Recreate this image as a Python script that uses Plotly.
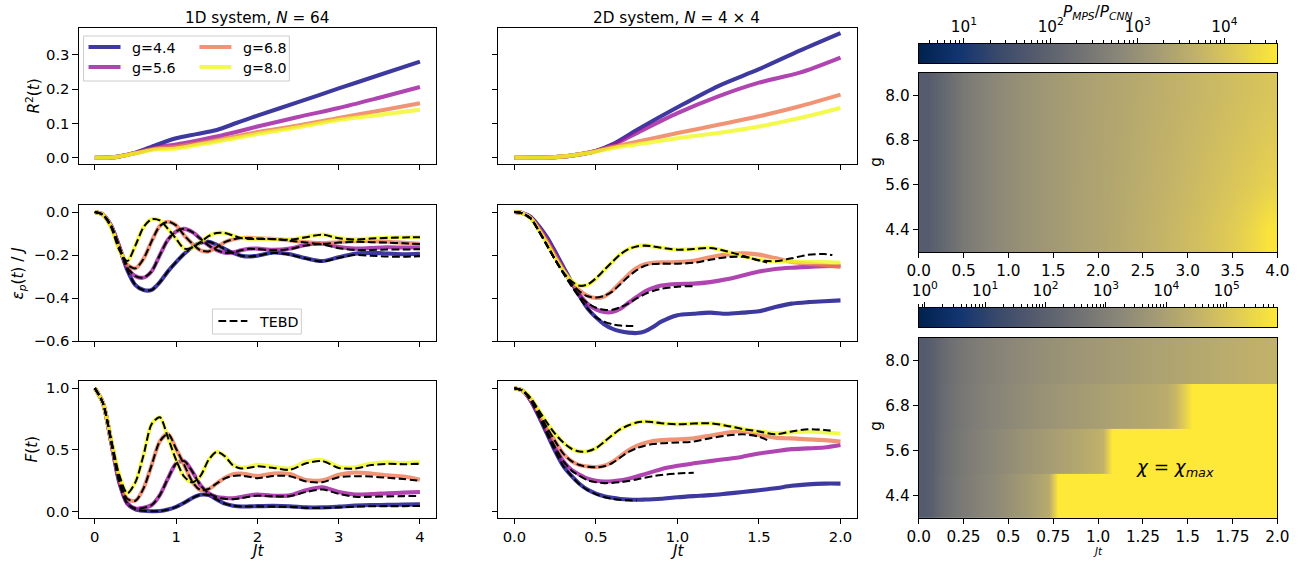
import numpy as np
import plotly.graph_objects as go

# ---------------------------------------------------------------- data
g_values = [4.4, 5.6, 6.8, 8.0]
g_labels = ["g=4.4", "g=5.6", "g=6.8", "g=8.0"]
line_colors = ["rgba(13,8,135,0.8)", "rgba(156,23,158,0.8)",
               "rgba(237,121,83,0.8)", "rgba(240,249,33,0.8)"]

# R^2(t)
t_r2_1d = [0, 0.25, 0.5, 0.75, 1.0, 1.25, 1.5, 1.75, 2.0, 2.5, 3.0, 3.5, 4.0]
r2_1d = [
    [0, 0.002, 0.015, 0.037, 0.057, 0.069, 0.081, 0.102, 0.123, 0.162, 0.202, 0.241, 0.28],
    [0, 0.002, 0.014, 0.030, 0.039, 0.050, 0.062, 0.076, 0.091, 0.119, 0.145, 0.175, 0.206],
    [0, 0.002, 0.014, 0.027, 0.032, 0.042, 0.052, 0.063, 0.075, 0.094, 0.116, 0.137, 0.159],
    [0, 0.002, 0.013, 0.024, 0.027, 0.037, 0.047, 0.058, 0.069, 0.089, 0.110, 0.125, 0.140],
]
t_r2_2d = [0, 0.25, 0.4, 0.5, 0.6, 0.75, 1.0, 1.25, 1.5, 1.75, 2.0]
r2_2d = [
    [0, 0.002, 0.010, 0.020, 0.039, 0.081, 0.147, 0.209, 0.258, 0.312, 0.363],
    [0, 0.002, 0.010, 0.020, 0.036, 0.072, 0.130, 0.179, 0.219, 0.248, 0.292],
    [0, 0.002, 0.010, 0.020, 0.032, 0.047, 0.072, 0.096, 0.121, 0.150, 0.184],
    [0, 0.002, 0.010, 0.018, 0.028, 0.039, 0.057, 0.072, 0.091, 0.116, 0.145],
]

# 1D time grid
t_1d = [0.0, 0.1, 0.2, 0.3, 0.4, 0.5, 0.6, 0.7, 0.8, 0.9, 1.0, 1.1, 1.2, 1.3, 1.4, 1.5,
        1.6, 1.7, 1.8, 1.9, 2.0, 2.2, 2.4, 2.6, 2.8, 3.0, 3.2, 3.4, 3.6, 3.8, 4.0]

eps_1d = [
    [0, -0.012, -0.062, -0.16, -0.27, -0.34, -0.363, -0.362, -0.326, -0.276, -0.233, -0.194, -0.163,
     -0.143, -0.138, -0.152, -0.172, -0.19, -0.203, -0.207, -0.203,
     -0.188, -0.196, -0.215, -0.228, -0.21, -0.194, -0.19, -0.193, -0.196, -0.194],
    [0, -0.012, -0.065, -0.16, -0.258, -0.298, -0.305, -0.275, -0.2, -0.128, -0.09, -0.078, -0.093,
     -0.124, -0.155, -0.177, -0.189, -0.188, -0.178, -0.171, -0.17,
     -0.176, -0.17, -0.152, -0.147, -0.163, -0.17, -0.167, -0.164, -0.165, -0.164],
    [0, -0.012, -0.066, -0.165, -0.245, -0.262, -0.217, -0.135, -0.065, -0.045, -0.062, -0.108, -0.147,
     -0.178, -0.183, -0.163, -0.14, -0.127, -0.121, -0.12, -0.122,
     -0.124, -0.132, -0.14, -0.145, -0.14, -0.136, -0.135, -0.138, -0.143, -0.147],
    [0, -0.013, -0.07, -0.175, -0.228, -0.155, -0.07, -0.033, -0.039, -0.078, -0.124, -0.17, -0.165,
     -0.14, -0.112, -0.097, -0.097, -0.109, -0.121, -0.125, -0.124,
     -0.125, -0.127, -0.116, -0.104, -0.121, -0.127, -0.122, -0.119, -0.117, -0.116],
]
eps_1d_tebd = [
    [0, -0.012, -0.062, -0.16, -0.27, -0.34, -0.363, -0.362, -0.326, -0.276, -0.233, -0.194, -0.163,
     -0.143, -0.138, -0.152, -0.172, -0.19, -0.203, -0.207, -0.203,
     -0.19, -0.198, -0.217, -0.23, -0.213, -0.2, -0.203, -0.207, -0.208, -0.205],
    [0, -0.012, -0.065, -0.16, -0.258, -0.298, -0.305, -0.275, -0.2, -0.128, -0.09, -0.078, -0.093,
     -0.124, -0.155, -0.177, -0.189, -0.188, -0.178, -0.171, -0.172,
     -0.178, -0.172, -0.155, -0.15, -0.168, -0.176, -0.176, -0.174, -0.174, -0.173],
    [0, -0.012, -0.066, -0.165, -0.245, -0.262, -0.217, -0.135, -0.065, -0.045, -0.062, -0.108, -0.147,
     -0.178, -0.183, -0.163, -0.14, -0.127, -0.121, -0.121, -0.123,
     -0.125, -0.133, -0.142, -0.148, -0.142, -0.138, -0.14, -0.142, -0.145, -0.149],
    [0, -0.013, -0.07, -0.175, -0.228, -0.155, -0.07, -0.033, -0.039, -0.078, -0.124, -0.17, -0.165,
     -0.14, -0.112, -0.097, -0.097, -0.109, -0.121, -0.125, -0.125,
     -0.126, -0.128, -0.117, -0.105, -0.122, -0.128, -0.123, -0.12, -0.118, -0.117],
]

f_1d = [
    [1.0, 0.88, 0.57, 0.24, 0.07, 0.02, 0.008, 0.005, 0.006, 0.018, 0.04, 0.073, 0.112, 0.138,
     0.135, 0.1, 0.066, 0.05, 0.043, 0.044, 0.046,
     0.048, 0.045, 0.036, 0.036, 0.042, 0.05, 0.055, 0.056, 0.058, 0.06],
    [1.0, 0.88, 0.57, 0.25, 0.065, 0.027, 0.032, 0.055, 0.135, 0.27, 0.39, 0.41, 0.325, 0.215,
     0.15, 0.12, 0.112, 0.11, 0.12, 0.132, 0.14,
     0.13, 0.133, 0.175, 0.198, 0.16, 0.14, 0.143, 0.15, 0.155, 0.16],
    [1.0, 0.88, 0.58, 0.27, 0.105, 0.09, 0.19, 0.38, 0.57, 0.63, 0.51, 0.38, 0.243, 0.176,
     0.185, 0.23, 0.276, 0.305, 0.31, 0.3, 0.29,
     0.31, 0.305, 0.257, 0.255, 0.3, 0.318, 0.31, 0.295, 0.285, 0.26],
    [1.0, 0.88, 0.59, 0.3, 0.15, 0.24, 0.46, 0.71, 0.765, 0.6, 0.42, 0.284, 0.238, 0.29,
     0.42, 0.485, 0.45, 0.38, 0.357, 0.365, 0.38,
     0.365, 0.35, 0.405, 0.42, 0.365, 0.36, 0.39, 0.4, 0.395, 0.4],
]
f_1d_tebd = [
    [1.0, 0.88, 0.57, 0.24, 0.07, 0.02, 0.008, 0.005, 0.006, 0.018, 0.04, 0.073, 0.112, 0.138,
     0.135, 0.1, 0.066, 0.05, 0.043, 0.043, 0.044,
     0.042, 0.04, 0.032, 0.032, 0.036, 0.042, 0.045, 0.046, 0.046, 0.047],
    [1.0, 0.88, 0.57, 0.25, 0.065, 0.027, 0.032, 0.055, 0.135, 0.27, 0.39, 0.41, 0.325, 0.215,
     0.15, 0.12, 0.105, 0.102, 0.11, 0.122, 0.13,
     0.125, 0.128, 0.16, 0.18, 0.145, 0.122, 0.122, 0.125, 0.127, 0.128],
    [1.0, 0.88, 0.58, 0.27, 0.105, 0.09, 0.19, 0.38, 0.57, 0.63, 0.51, 0.38, 0.243, 0.176,
     0.185, 0.23, 0.27, 0.29, 0.293, 0.283, 0.272,
     0.29, 0.288, 0.245, 0.24, 0.28, 0.288, 0.285, 0.275, 0.265, 0.25],
    [1.0, 0.88, 0.59, 0.3, 0.15, 0.24, 0.46, 0.71, 0.765, 0.6, 0.42, 0.284, 0.238, 0.29,
     0.42, 0.485, 0.45, 0.375, 0.35, 0.357, 0.368,
     0.355, 0.34, 0.392, 0.41, 0.355, 0.35, 0.378, 0.388, 0.385, 0.388],
]

# 2D time grid
t_2d = [0.0, 0.05, 0.1, 0.15, 0.2, 0.25, 0.3, 0.35, 0.4, 0.45, 0.5, 0.55, 0.6, 0.65, 0.7,
        0.75, 0.8, 0.85, 0.9, 1.0, 1.1, 1.2, 1.3, 1.4, 1.5, 1.6, 1.7, 1.8, 1.9, 2.0]

eps_2d = [
    [0, -0.005, -0.022, -0.065, -0.118, -0.185, -0.255, -0.325, -0.39, -0.45, -0.49, -0.522, -0.543,
     -0.555, -0.561, -0.563, -0.555, -0.535, -0.51,
     -0.48, -0.473, -0.468, -0.473, -0.468, -0.462, -0.442, -0.426, -0.419, -0.415, -0.411],
    [0, -0.005, -0.026, -0.072, -0.128, -0.195, -0.265, -0.33, -0.385, -0.428, -0.453, -0.465, -0.465,
     -0.45, -0.422, -0.395, -0.37, -0.353, -0.342,
     -0.335, -0.333, -0.326, -0.313, -0.295, -0.277, -0.265, -0.259, -0.255, -0.252, -0.25],
    [0, -0.005, -0.028, -0.078, -0.138, -0.205, -0.27, -0.325, -0.365, -0.39, -0.4, -0.393, -0.366,
     -0.328, -0.29, -0.26, -0.243, -0.236, -0.234,
     -0.233, -0.226, -0.21, -0.198, -0.192, -0.198, -0.214, -0.232, -0.24, -0.247, -0.256],
    [0, -0.006, -0.03, -0.085, -0.148, -0.215, -0.275, -0.32, -0.344, -0.338, -0.31, -0.271, -0.233,
     -0.196, -0.172, -0.159, -0.155, -0.16, -0.166,
     -0.175, -0.171, -0.166, -0.183, -0.205, -0.222, -0.229, -0.23, -0.232, -0.233, -0.236],
]
# TEBD runs stop when the bond dimension saturates
t_2d_tebd = [
    [0.0, 0.05, 0.1, 0.15, 0.2, 0.25, 0.3, 0.35, 0.4, 0.45, 0.5, 0.55, 0.6, 0.65, 0.7, 0.75],
    [0.0, 0.05, 0.1, 0.15, 0.2, 0.25, 0.3, 0.35, 0.4, 0.45, 0.5, 0.55, 0.6, 0.65, 0.7, 0.75,
     0.8, 0.85, 0.9, 1.0, 1.1],
    [0.0, 0.05, 0.1, 0.15, 0.2, 0.25, 0.3, 0.35, 0.4, 0.45, 0.5, 0.55, 0.6, 0.65, 0.7, 0.75,
     0.8, 0.85, 0.9, 1.0, 1.1, 1.2, 1.3, 1.4, 1.5, 1.55],
    [0.0, 0.05, 0.1, 0.15, 0.2, 0.25, 0.3, 0.35, 0.4, 0.45, 0.5, 0.55, 0.6, 0.65, 0.7, 0.75,
     0.8, 0.85, 0.9, 1.0, 1.1, 1.2, 1.3, 1.4, 1.5, 1.6, 1.7, 1.8, 1.9, 1.95],
]
eps_2d_tebd = [
    [0, -0.006, -0.03, -0.088, -0.155, -0.222, -0.285, -0.345, -0.4, -0.45, -0.49, -0.51, -0.522,
     -0.528, -0.53, -0.53],
    [0, -0.006, -0.03, -0.088, -0.155, -0.222, -0.285, -0.34, -0.39, -0.425, -0.445, -0.455, -0.455,
     -0.443, -0.425, -0.402, -0.382, -0.367, -0.357, -0.347, -0.345],
    [0, -0.006, -0.03, -0.088, -0.155, -0.222, -0.283, -0.332, -0.37, -0.392, -0.398, -0.39, -0.37,
     -0.335, -0.3, -0.27, -0.25, -0.242, -0.24, -0.24, -0.236, -0.222, -0.21, -0.208, -0.225, -0.235],
    [0, -0.006, -0.03, -0.09, -0.155, -0.222, -0.28, -0.322, -0.343, -0.336, -0.308, -0.27, -0.232,
     -0.196, -0.172, -0.16, -0.156, -0.16, -0.166, -0.175, -0.172, -0.167, -0.182, -0.203, -0.224,
     -0.229, -0.215, -0.199, -0.195, -0.2],
]

f_2d = [
    [1.0, 0.98, 0.9, 0.77, 0.63, 0.49, 0.37, 0.29, 0.225, 0.178, 0.147, 0.126, 0.113, 0.104, 0.099,
     0.097, 0.099, 0.102, 0.106,
     0.118, 0.127, 0.135, 0.147, 0.16, 0.175, 0.19, 0.21, 0.222, 0.228, 0.228],
    [1.0, 0.98, 0.9, 0.78, 0.65, 0.52, 0.41, 0.34, 0.3, 0.268, 0.252, 0.245, 0.247, 0.255, 0.268,
     0.285, 0.305, 0.325, 0.345,
     0.372, 0.392, 0.41, 0.427, 0.446, 0.472, 0.49, 0.507, 0.513, 0.52, 0.54],
    [1.0, 0.98, 0.91, 0.8, 0.68, 0.57, 0.47, 0.41, 0.378, 0.366, 0.363, 0.372, 0.403, 0.45, 0.498,
     0.533, 0.557, 0.572, 0.58,
     0.586, 0.595, 0.616, 0.64, 0.652, 0.622, 0.6, 0.594, 0.586, 0.58, 0.568],
    [1.0, 0.98, 0.92, 0.82, 0.72, 0.63, 0.56, 0.51, 0.488, 0.49, 0.515, 0.565, 0.62, 0.668, 0.7,
     0.722, 0.73, 0.725, 0.717,
     0.708, 0.714, 0.716, 0.697, 0.67, 0.65, 0.636, 0.643, 0.65, 0.643, 0.632],
]
f_2d_tebd = [
    [1.0, 0.98, 0.9, 0.77, 0.63, 0.49, 0.37, 0.29, 0.222, 0.175, 0.143, 0.12, 0.105, 0.097, 0.093, 0.092],
    [1.0, 0.98, 0.9, 0.78, 0.65, 0.52, 0.41, 0.335, 0.29, 0.255, 0.24, 0.232, 0.234, 0.24, 0.25,
     0.262, 0.276, 0.288, 0.298, 0.31, 0.316],
    [1.0, 0.98, 0.91, 0.8, 0.68, 0.57, 0.47, 0.41, 0.378, 0.364, 0.36, 0.368, 0.395, 0.44, 0.485,
     0.515, 0.535, 0.548, 0.554, 0.56, 0.568, 0.595, 0.616, 0.627, 0.608, 0.58],
    [1.0, 0.98, 0.92, 0.82, 0.72, 0.63, 0.56, 0.51, 0.488, 0.49, 0.515, 0.565, 0.62, 0.668, 0.7,
     0.722, 0.73, 0.725, 0.717, 0.708, 0.714, 0.716, 0.697, 0.67, 0.65, 0.627, 0.65, 0.668, 0.662, 0.655],
]

# heat map 1: log10(P_MPS / P_CNN), 1D system (cell centres in Jt)
hm1_t = [0.1, 0.3, 0.5, 0.7, 0.9, 1.1, 1.3, 1.5, 1.7, 1.9, 2.1, 2.3, 2.5, 2.7, 2.9, 3.1, 3.3, 3.5, 3.7, 3.9]
hm1_log_ratio = [  # rows: g = 4.4, 5.6, 6.8, 8.0
    [1.84, 2.15, 2.48, 2.68, 2.84, 2.97, 3.08, 3.18, 3.27, 3.35, 3.43, 3.52, 3.61, 3.7, 3.8, 3.9, 4.02, 4.15, 4.32, 4.55],
    [1.84, 2.15, 2.48, 2.68, 2.84, 2.97, 3.08, 3.18, 3.27, 3.35, 3.42, 3.5, 3.58, 3.66, 3.75, 3.84, 3.93, 4.03, 4.13, 4.25],
    [1.84, 2.15, 2.48, 2.68, 2.84, 2.97, 3.08, 3.18, 3.27, 3.34, 3.41, 3.48, 3.56, 3.63, 3.71, 3.79, 3.87, 3.95, 4.03, 4.12],
    [1.84, 2.15, 2.48, 2.68, 2.84, 2.97, 3.08, 3.18, 3.26, 3.33, 3.4, 3.46, 3.53, 3.6, 3.67, 3.74, 3.81, 3.88, 3.95, 4.02],
]
hm1_lim = [0.48, 4.61]

# heat map 2: log10 of the bond dimension, 2D system; beyond the listed columns chi = chi_max
hm2_t = [0.025, 0.075, 0.125, 0.175, 0.225, 0.275, 0.325, 0.375, 0.425, 0.475,
         0.525, 0.575, 0.625, 0.675, 0.725, 0.775, 0.825, 0.875, 0.925, 0.975,
         1.025, 1.075, 1.125, 1.175, 1.225, 1.275, 1.325, 1.375, 1.425, 1.475,
         1.525, 1.575, 1.625, 1.675, 1.725, 1.775, 1.825, 1.875, 1.925, 1.975]
hm2_log_chi = [
    [1.8, 1.95, 2.34, 2.55, 2.75, 2.9, 3.05, 3.18, 3.3, 3.45, 3.6, 3.75, 3.92, 4.1, 4.3],
    [1.8, 1.95, 2.3, 2.52, 2.72, 2.87, 3.0, 3.12, 3.24, 3.35, 3.46, 3.57, 3.67, 3.77, 3.87,
     3.96, 4.05, 4.15, 4.25, 4.35, 4.48],
    [1.8, 1.95, 2.28, 2.5, 2.68, 2.82, 2.94, 3.04, 3.13, 3.22, 3.3, 3.38, 3.46, 3.53, 3.6,
     3.67, 3.73, 3.79, 3.85, 3.9, 3.95, 4.0, 4.05, 4.1, 4.15, 4.2, 4.26, 4.33, 4.6, 5.2],
    [1.8, 1.95, 2.25, 2.46, 2.63, 2.77, 2.89, 2.99, 3.08, 3.16, 3.24, 3.31, 3.38, 3.44, 3.5,
     3.55, 3.6, 3.65, 3.7, 3.74, 3.78, 3.82, 3.86, 3.9, 3.94, 3.98, 4.02, 4.06, 4.1, 4.14,
     4.18, 4.22, 4.26, 4.3, 4.33, 4.36, 4.39, 4.42, 4.45, 4.48],
]
chi_max_log = 5.84
hm2_lim = [-0.1, 5.84]

# ---------------------------------------------------------------- page geometry
# The page is photographed from a 1305 x 573 area that is then fitted into 1305 x 563,
# so the figure is laid out on that area and target positions are mapped onto it.
W, H = 1305, 573
S = 563.0 / H
OX = W * (1 - S) / 2
FONT = "DejaVu Sans"


def fx(p):
    return ((p - OX) / S) / W


def fy(p):
    return 1 - (p / S) / H


def fs(size):
    return size / S


fig = go.Figure()


def add_line(x, y, color, xa, ya, name, dash=None, width=4.0):
    fig.add_trace(go.Scatter(
        x=x, y=y, mode="lines", name=name, showlegend=False, hoverinfo="skip",
        line=dict(color=color, width=fs(width), dash=dash, shape="spline", smoothing=0.8),
        xaxis=xa, yaxis=ya))


DASH = "7.8px,3.4px"

# row 1 : R^2
for i in range(4):
    add_line(t_r2_1d, r2_1d[i], line_colors[i], "x", "y", g_labels[i])
    add_line(t_r2_2d, r2_2d[i], line_colors[i], "x2", "y2", g_labels[i])
# row 2 : energy
for i in range(4):
    add_line(t_1d, eps_1d[i], line_colors[i], "x3", "y3", g_labels[i])
    add_line(t_2d, eps_2d[i], line_colors[i], "x4", "y4", g_labels[i])
for i in range(4):
    add_line(t_1d, eps_1d_tebd[i], "black", "x3", "y3", "TEBD", dash=DASH, width=2)
    add_line(t_2d_tebd[i], eps_2d_tebd[i], "black", "x4", "y4", "TEBD", dash=DASH, width=2)
# row 3 : fidelity
for i in range(4):
    add_line(t_1d, f_1d[i], line_colors[i], "x5", "y5", g_labels[i])
    add_line(t_2d, f_2d[i], line_colors[i], "x6", "y6", g_labels[i])
for i in range(4):
    add_line(t_1d, f_1d_tebd[i], "black", "x5", "y5", "TEBD", dash=DASH, width=2)
    add_line(t_2d_tebd[i], f_2d_tebd[i], "black", "x6", "y6", "TEBD", dash=DASH, width=2)

# heat map 1
fig.add_trace(go.Heatmap(x=hm1_t, y=g_values, z=hm1_log_ratio, colorscale="Cividis",
                         zmin=hm1_lim[0], zmax=hm1_lim[1], zsmooth="best", showscale=False,
                         hoverinfo="skip", xaxis="x7", yaxis="y7"))
# heat map 2 (one trace per g so that rows stay sharp; rows overlap very slightly)
dg = (g_values[1] - g_values[0]) / 4 * 1.05
for g, row in zip(g_values, hm2_log_chi):
    full = list(row) + [chi_max_log] * (len(hm2_t) - len(row))
    fig.add_trace(go.Heatmap(x=hm2_t, y=[g - dg, g + dg], z=[full, full], colorscale="Cividis",
                             zmin=hm2_lim[0], zmax=hm2_lim[1], zsmooth="best", showscale=False,
                             hoverinfo="skip", xaxis="x8", yaxis="y8"))

# colour bars
for lim, xa, ya in [(hm1_lim, "x9", "y9"), (hm2_lim, "x10", "y10")]:
    grad = np.linspace(lim[0], lim[1], 300)
    fig.add_trace(go.Heatmap(x=grad, y=[0, 1], z=[grad, grad], colorscale="Cividis",
                             zmin=lim[0], zmax=lim[1], zsmooth="best", showscale=False,
                             hoverinfo="skip", xaxis=xa, yaxis=ya))

# ---------------------------------------------------------------- axes
TF = dict(family=FONT, size=fs(14.5), color="black")
RF = dict(family=FONT, size=fs(15), color="black")


def axis(**kw):
    d = dict(showline=True, linecolor="black", linewidth=1, mirror=True, ticks="outside",
             ticklen=fs(5), tickwidth=1, tickcolor="black", showgrid=False, zeroline=False,
             fixedrange=True, tickfont=TF)
    d.update(kw)
    return d


col1 = [fx(78), fx(436)]
col2 = [fx(498), fx(857)]
col3 = [fx(919), fx(1278)]
row1 = [fy(162), fy(26)]
row2 = [fy(339), fy(203)]
row3 = [fy(516), fy(379)]
cb1 = [fy(61), fy(42)]
hm1 = [fy(250), fy(71)]
cb2 = [fy(325), fy(306)]
hm2 = [fy(516), fy(336)]

x1_ticks = dict(tickvals=[0, 1, 2, 3, 4], ticktext=["0", "1", "2", "3", "4"], range=[-0.2, 4.2])
x2_ticks = dict(tickvals=[0, 0.5, 1, 1.5, 2], ticktext=["0.0", "0.5", "1.0", "1.5", "2.0"], range=[-0.1, 2.1])
y1_ticks = dict(tickvals=[0, 0.1, 0.2, 0.3], ticktext=["0.0", "0.1", "0.2", "0.3"], range=[-0.018, 0.378])
y2_ticks = dict(tickvals=[0, -0.2, -0.4, -0.6], ticktext=["0.0", "\u22120.2", "\u22120.4", "\u22120.6"], range=[-0.6, 0.033])
y3_ticks = dict(tickvals=[0, 0.5, 1.0], ticktext=["0.0", "0.5", "1.0"], range=[-0.05, 1.058])

layout_axes = {}
layout_axes["xaxis"] = axis(domain=col1, anchor="y", showticklabels=False, **x1_ticks)
layout_axes["yaxis"] = axis(domain=row1, anchor="x", **y1_ticks)
layout_axes["xaxis2"] = axis(domain=col2, anchor="y2", showticklabels=False, **x2_ticks)
layout_axes["yaxis2"] = axis(domain=row1, anchor="x2", showticklabels=False, **y1_ticks)
layout_axes["xaxis3"] = axis(domain=col1, anchor="y3", showticklabels=False, **x1_ticks)
layout_axes["yaxis3"] = axis(domain=row2, anchor="x3", **y2_ticks)
layout_axes["xaxis4"] = axis(domain=col2, anchor="y4", showticklabels=False, **x2_ticks)
layout_axes["yaxis4"] = axis(domain=row2, anchor="x4", showticklabels=False, **y2_ticks)
layout_axes["xaxis5"] = axis(domain=col1, anchor="y5", **x1_ticks)
layout_axes["yaxis5"] = axis(domain=row3, anchor="x5", **y3_ticks)
layout_axes["xaxis6"] = axis(domain=col2, anchor="y6", **x2_ticks)
layout_axes["yaxis6"] = axis(domain=row3, anchor="x6", showticklabels=False, **y3_ticks)

g_ticks = dict(tickvals=g_values, ticktext=["4.4", "5.6", "6.8", "8.0"], range=[3.8, 8.6])
layout_axes["xaxis7"] = axis(domain=col3, anchor="y7", range=[0, 4], tickfont=RF,
                             tickvals=[0, 0.5, 1, 1.5, 2, 2.5, 3, 3.5, 4],
                             ticktext=["0.0", "0.5", "1.0", "1.5", "2.0", "2.5", "3.0", "3.5", "4.0"])
layout_axes["yaxis7"] = axis(domain=hm1, anchor="x7", tickfont=RF, **g_ticks)
layout_axes["xaxis8"] = axis(domain=col3, anchor="y8", range=[0, 2], tickfont=RF,
                             tickvals=[0, 0.25, 0.5, 0.75, 1, 1.25, 1.5, 1.75, 2],
                             ticktext=["0.0", "0.25", "0.5", "0.75", "1.0", "1.25", "1.5", "1.75", "2.0"])
layout_axes["yaxis8"] = axis(domain=hm2, anchor="x8", tickfont=RF, **g_ticks)


def log_minor(lim):
    vals = []
    for n in range(-1, 7):
        for k in range(2, 10):
            v = n + np.log10(k)
            if lim[0] <= v <= lim[1]:
                vals.append(float(v))
    return vals


def cbar_axis(lim, anchor, exps):
    return axis(domain=col3, anchor=anchor, side="top", range=lim, tickfont=RF,
                tickvals=exps, ticktext=["10<sup>%d</sup>" % e for e in exps],
                minor=dict(tickvals=log_minor(lim), ticks="outside", ticklen=fs(2.5),
                           tickwidth=1, tickcolor="black", showgrid=False))


layout_axes["xaxis9"] = cbar_axis(hm1_lim, "y9", [1, 2, 3, 4])
layout_axes["yaxis9"] = axis(domain=cb1, anchor="x9", range=[0, 1], ticks="", showticklabels=False)
layout_axes["xaxis10"] = cbar_axis(hm2_lim, "y10", [0, 1, 2, 3, 4, 5])
layout_axes["yaxis10"] = axis(domain=cb2, anchor="x10", range=[0, 1], ticks="", showticklabels=False)

# ---------------------------------------------------------------- text
annotations = []
shapes = []


def ann(text, x, y, size=14.5, angle=0, xanchor="center", yanchor="middle"):
    annotations.append(dict(text=text, x=fx(x), y=fy(y), xref="paper", yref="paper",
                            showarrow=False, textangle=angle, xanchor=xanchor, yanchor=yanchor,
                            font=dict(family=FONT, size=fs(size), color="black")))


ann("1D system, <i>N</i> = 64", 257, 16, size=15)
ann("2D system, <i>N</i> = 4 \u00d7 4", 677, 16, size=15)
ann("<i>R</i><sup>2</sup>(<i>t</i>)", 32, 94, size=15, angle=-90)
ann("<i>\u03b5<sub>p</sub></i>(<i>t</i>) / <i>J</i>", 18, 271, size=15, angle=-90)
ann("<i>F</i>(<i>t</i>)", 31, 447, size=15, angle=-90)
ann("<i>Jt</i>", 257, 549, size=15)
ann("<i>Jt</i>", 677, 549, size=15)
ann("g", 876, 160, size=15, angle=-90)
ann("g", 876, 424, size=15, angle=-90)
ann("<i>Jt</i>", 1098, 549, size=10)
ann("<i>P<sub>MPS</sub></i>/<i>P<sub>CNN</sub></i>", 1098, 11, size=15)
annotations.append(dict(text="<i>\u03c7</i> = <i>\u03c7<sub>max</sub></i>", x=1.2, y=5.13,
                        xref="x8", yref="y8", showarrow=False, xanchor="left", yanchor="middle",
                        font=dict(family=FONT, size=fs(18), color="black")))

# legend 1 (g values)
shapes.append(dict(type="rect", xref="paper", yref="paper", x0=fx(83), x1=fx(289), y0=fy(79), y1=fy(34),
                   line=dict(color="#cccccc", width=1), fillcolor="rgba(255,255,255,0.8)", layer="above"))
for i, (lab, col) in enumerate(zip(g_labels, line_colors)):
    c, r = i // 2, i % 2
    x0 = 88 + c * 111
    yy = 45 + r * 20
    shapes.append(dict(type="line", xref="paper", yref="paper", x0=fx(x0), x1=fx(x0 + 32),
                       y0=fy(yy), y1=fy(yy), line=dict(color=col, width=fs(4)), layer="above"))
    ann(lab, x0 + 42, yy + 1, size=14, xanchor="left")

# legend 2 (TEBD)
shapes.append(dict(type="rect", xref="paper", yref="paper", x0=fx(212), x1=fx(301), y0=fy(332), y1=fy(307),
                   line=dict(color="#cccccc", width=1), fillcolor="rgba(255,255,255,0.8)", layer="above"))
shapes.append(dict(type="line", xref="paper", yref="paper", x0=fx(218), x1=fx(247), y0=fy(319), y1=fy(319),
                   line=dict(color="black", width=fs(2), dash=DASH), layer="above"))
ann("TEBD", 257, 320, size=14, xanchor="left")

fig.update_layout(width=W, height=H, margin=dict(l=0, r=0, t=0, b=0, pad=0),
                  paper_bgcolor="white", plot_bgcolor="white", showlegend=False,
                  font=dict(family=FONT, size=14, color="black"),
                  annotations=annotations, shapes=shapes, **layout_axes)

PAGE_JS = ("document.documentElement.style.margin='0';document.documentElement.style.padding='0';"
           "document.documentElement.style.overflow='hidden';"
           "document.body.style.margin='0';document.body.style.padding='0';"
           "document.body.style.overflow='hidden';"
           "var gd=document.querySelector('.plotly-graph-div');"
           "gd.style.position='fixed';gd.style.left='0px';gd.style.top='0px';")

fig.write_html("out.html", config={"displayModeBar": False}, post_script=PAGE_JS)
